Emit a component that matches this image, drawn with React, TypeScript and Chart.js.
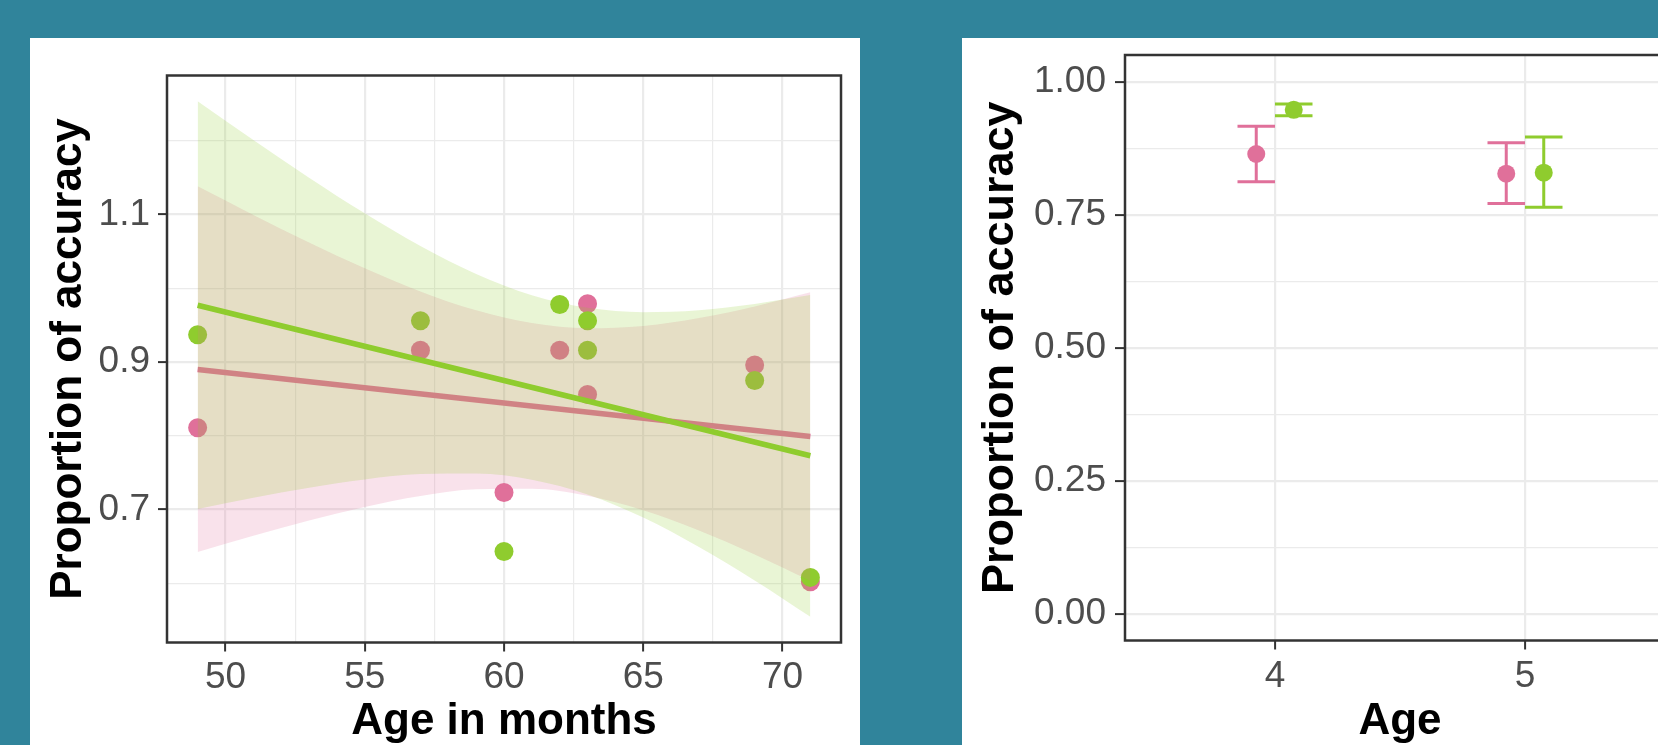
import React, { useEffect, useRef } from 'react';
import { Chart, registerables } from 'chart.js';

Chart.register(...registerables);

// ---------- styles ----------
const FONT = "'Liberation Sans', Arial, Helvetica, sans-serif";
const PINK = '#E0709A';
const GREEN = '#8FCC2E';
const PINK_FILL = 'rgba(224,112,154,0.2)';
const GREEN_FILL = 'rgba(143,204,46,0.2)';
const TEAL = '#30849B';
const GRID = '#EBEBEB';
const INK = '#333333';
const TICK_TEXT = '#4D4D4D';

// ---------- left panel data ----------
const MONTHS = [49, 57, 60, 62, 63, 63, 69, 71];
const ACC_PINK = [0.811, 0.916, 0.723, 0.916, 0.979, 0.856, 0.896, 0.602];
const ACC_GREEN = [0.937, 0.956, 0.643, 0.978, 0.956, 0.916, 0.875, 0.608];

const FIT_MONTHS = [49, 71];
const FIT_PINK = [0.890, 0.799];
const FIT_GREEN = [0.977, 0.773];

const BAND_MONTHS = [49, 51, 53, 55, 57, 59, 61, 63, 65, 67, 69, 71];
const BAND_PINK_HIGH = [1.1383, 1.0995, 1.0622, 1.0272, 0.9958, 0.9701, 0.9528, 0.9458, 0.9489, 0.9597, 0.9755, 0.9946];
const BAND_PINK_LOW = [0.6423, 0.6645, 0.6852, 0.7036, 0.7184, 0.7275, 0.7282, 0.7186, 0.6989, 0.6715, 0.6391, 0.6034];
const BAND_GREEN_HIGH = [1.2536, 1.2010, 1.1501, 1.1017, 1.0573, 1.0194, 0.9907, 0.9736, 0.9677, 0.9704, 0.9788, 0.9908];
const BAND_GREEN_LOW = [0.7006, 0.7160, 0.7297, 0.7409, 0.7481, 0.7490, 0.7405, 0.7204, 0.6891, 0.6492, 0.6038, 0.5546];

const LEFT_X_TICKS = [50, 52.5, 55, 57.5, 60, 62.5, 65, 67.5, 70];
const LEFT_X_LABELS = ['50', '', '55', '', '60', '', '65', '', '70'];
const LEFT_Y_TICKS = [0.6, 0.7, 0.8, 0.9, 1.0, 1.1, 1.2];
const LEFT_Y_LABELS = ['', '0.7', '', '0.9', '', '1.1', ''];

// ---------- right panel data ----------
const AGE_YEARS = [4, 5];
const AGE_LABELS = ['4', '5'];
const MEAN_PINK = [0.864, 0.827];
const LOW_PINK = [0.812, 0.771];
const HIGH_PINK = [0.916, 0.885];
const MEAN_GREEN = [0.947, 0.829];
const LOW_GREEN = [0.936, 0.764];
const HIGH_GREEN = [0.958, 0.896];

const RIGHT_Y_TICKS = [0, 0.125, 0.25, 0.375, 0.5, 0.625, 0.75, 0.875, 1];
const RIGHT_Y_LABELS = ['0.00', '', '0.25', '', '0.50', '', '0.75', '', '1.00'];

const DODGE = 0.075;
const CAP_HALF = 0.075;

// ---------- helpers ----------
const toPoints = (xs: number[], ys: number[], dx = 0) => xs.map((x, i) => ({ x: x + dx, y: ys[i] }));

function fixSize(size: number, horizontal: boolean) {
  return (axis: any) => {
    if (horizontal) axis.height = size;
    else axis.width = size;
    axis.paddingLeft = 0;
    axis.paddingRight = 0;
    axis.paddingTop = 0;
    axis.paddingBottom = 0;
  };
}

function setTicks(values: number[]) {
  return (axis: any) => {
    axis.ticks = values.map((v) => ({ value: v }));
  };
}

const framePlugin = {
  id: 'frame',
  afterDraw(chart: any) {
    const { ctx, chartArea: a } = chart;
    ctx.save();
    ctx.strokeStyle = INK;
    ctx.lineWidth = 2.5;
    ctx.strokeRect(a.left, a.top, a.right - a.left, a.bottom - a.top);
    ctx.restore();
  },
};

function axisOpts(opts: {
  min: number; max: number; ticks: number[]; labels: string[];
  size: number; horizontal: boolean; title: string; titleSize: number;
  titlePad: any; tickLen: number; tickPad: number;
}) {
  const major = (ctx: any) => !!opts.labels[ctx.index];
  return {
    type: 'linear',
    bounds: 'data',
    min: opts.min,
    max: opts.max,
    afterBuildTicks: setTicks(opts.ticks),
    afterFit: fixSize(opts.size, opts.horizontal),
    border: { display: false },
    grid: {
      color: GRID,
      lineWidth: (ctx: any) => (major(ctx) ? 2.2 : 1.2),
      drawTicks: true,
      tickLength: opts.tickLen,
      tickWidth: 2,
      tickColor: (ctx: any) => (major(ctx) ? INK : 'rgba(0,0,0,0)'),
    },
    ticks: {
      autoSkip: false,
      maxRotation: 0,
      minRotation: 0,
      padding: opts.tickPad,
      color: TICK_TEXT,
      font: { family: FONT, size: 37 },
      callback: (_v: any, i: number) => opts.labels[i],
    },
    title: {
      display: true,
      text: opts.title,
      color: '#000000',
      font: { family: FONT, size: opts.titleSize, weight: 'bold', lineHeight: 1 },
      padding: opts.titlePad,
    },
  };
}

const baseOptions = {
  responsive: false,
  animation: false,
  events: [],
  plugins: { legend: { display: false }, tooltip: { enabled: false } },
};

function leftConfig(): any {
  return {
    type: 'scatter',
    data: {
      datasets: [
        { type: 'scatter', data: toPoints(MONTHS, ACC_PINK), backgroundColor: PINK, borderColor: PINK, borderWidth: 0, pointRadius: 9.5, order: 11 },
        { type: 'scatter', data: toPoints(MONTHS, ACC_GREEN), backgroundColor: GREEN, borderColor: GREEN, borderWidth: 0, pointRadius: 9.5, order: 10 },
        { type: 'line', data: toPoints(BAND_MONTHS, BAND_PINK_HIGH), fill: '+1', backgroundColor: PINK_FILL, borderColor: 'rgba(0,0,0,0)', borderWidth: 0, pointRadius: 0, cubicInterpolationMode: 'monotone', order: 9 },
        { type: 'line', data: toPoints(BAND_MONTHS, BAND_PINK_LOW), fill: false, borderColor: 'rgba(0,0,0,0)', borderWidth: 0, pointRadius: 0, cubicInterpolationMode: 'monotone', order: 9 },
        { type: 'line', data: toPoints(FIT_MONTHS, FIT_PINK), fill: false, borderColor: PINK, borderWidth: 5.5, pointRadius: 0, order: 8 },
        { type: 'line', data: toPoints(BAND_MONTHS, BAND_GREEN_HIGH), fill: '+1', backgroundColor: GREEN_FILL, borderColor: 'rgba(0,0,0,0)', borderWidth: 0, pointRadius: 0, cubicInterpolationMode: 'monotone', order: 7 },
        { type: 'line', data: toPoints(BAND_MONTHS, BAND_GREEN_LOW), fill: false, borderColor: 'rgba(0,0,0,0)', borderWidth: 0, pointRadius: 0, cubicInterpolationMode: 'monotone', order: 7 },
        { type: 'line', data: toPoints(FIT_MONTHS, FIT_GREEN), fill: false, borderColor: GREEN, borderWidth: 5.5, pointRadius: 0, order: 6 },
      ],
    },
    options: {
      ...baseOptions,
      layout: { autoPadding: false, padding: { left: 0, top: 37.5, right: 19, bottom: 0 } },
      scales: {
        x: axisOpts({ min: 47.9, max: 72.1, ticks: LEFT_X_TICKS, labels: LEFT_X_LABELS, size: 102.5, horizontal: true, title: 'Age in months', titleSize: 44, titlePad: { top: 0, bottom: 1.5 }, tickLen: 9, tickPad: 4 }),
        y: axisOpts({ min: 0.5197, max: 1.2886, ticks: LEFT_Y_TICKS, labels: LEFT_Y_LABELS, size: 137, horizontal: false, title: 'Proportion of accuracy', titleSize: 44, titlePad: { top: 17, bottom: 0 }, tickLen: 9, tickPad: 8 }),
      },
    },
    plugins: [framePlugin],
  };
}

const errorBarPlugin = {
  id: 'errorBars',
  beforeDatasetsDraw(chart: any) {
    const { ctx, scales } = chart;
    const x = scales.x;
    const y = scales.y;
    const groups = [
      { color: PINK, dx: -DODGE, low: LOW_PINK, high: HIGH_PINK },
      { color: GREEN, dx: DODGE, low: LOW_GREEN, high: HIGH_GREEN },
    ];
    ctx.save();
    ctx.lineWidth = 3;
    groups.forEach((g) => {
      AGE_YEARS.forEach((age, i) => {
        const cx = age + g.dx;
        const px = x.getPixelForValue(cx);
        const pl = x.getPixelForValue(cx - CAP_HALF);
        const pr = x.getPixelForValue(cx + CAP_HALF);
        const pLow = y.getPixelForValue(g.low[i]);
        const pHigh = y.getPixelForValue(g.high[i]);
        ctx.strokeStyle = g.color;
        ctx.beginPath();
        ctx.moveTo(px, pLow);
        ctx.lineTo(px, pHigh);
        ctx.moveTo(pl, pLow);
        ctx.lineTo(pr, pLow);
        ctx.moveTo(pl, pHigh);
        ctx.lineTo(pr, pHigh);
        ctx.stroke();
      });
    });
    ctx.restore();
  },
};

function rightConfig(): any {
  return {
    type: 'scatter',
    data: {
      datasets: [
        { type: 'scatter', data: toPoints(AGE_YEARS, MEAN_PINK, -DODGE), backgroundColor: PINK, borderColor: PINK, borderWidth: 0, pointRadius: 9 },
        { type: 'scatter', data: toPoints(AGE_YEARS, MEAN_GREEN, DODGE), backgroundColor: GREEN, borderColor: GREEN, borderWidth: 0, pointRadius: 9 },
      ],
    },
    options: {
      ...baseOptions,
      layout: { autoPadding: false, padding: { left: 0, top: 17, right: 19, bottom: 0 } },
      scales: {
        x: axisOpts({ min: 3.4, max: 5.6, ticks: AGE_YEARS, labels: AGE_LABELS, size: 104.5, horizontal: true, title: 'Age', titleSize: 44, titlePad: { top: 0, bottom: 1.5 }, tickLen: 9, tickPad: 5 }),
        y: axisOpts({ min: -0.05, max: 1.05, ticks: RIGHT_Y_TICKS, labels: RIGHT_Y_LABELS, size: 163, horizontal: false, title: 'Proportion of accuracy', titleSize: 45, titlePad: { top: 16.5, bottom: 0 }, tickLen: 10, tickPad: 9 }),
      },
    },
    plugins: [errorBarPlugin, framePlugin],
  };
}

function ChartCanvas({ width, height, build }: { width: number; height: number; build: () => any }) {
  const ref = useRef<HTMLCanvasElement | null>(null);
  useEffect(() => {
    if (!ref.current) return;
    const chart = new Chart(ref.current, build());
    return () => chart.destroy();
  }, []);
  return <canvas ref={ref} width={width} height={height} style={{ display: 'block', width, height }} />;
}

export default function App() {
  return (
    <div style={{ position: 'fixed', left: 0, top: 0, width: 1658, height: 745, overflow: 'hidden', background: TEAL }}>
      <div style={{ position: 'absolute', left: 30, top: 38, width: 830, height: 707, background: '#ffffff' }}>
        <ChartCanvas width={830} height={707} build={leftConfig} />
      </div>
      <div style={{ position: 'absolute', left: 962, top: 38, width: 732, height: 707, background: '#ffffff' }}>
        <ChartCanvas width={732} height={707} build={rightConfig} />
      </div>
    </div>
  );
}
